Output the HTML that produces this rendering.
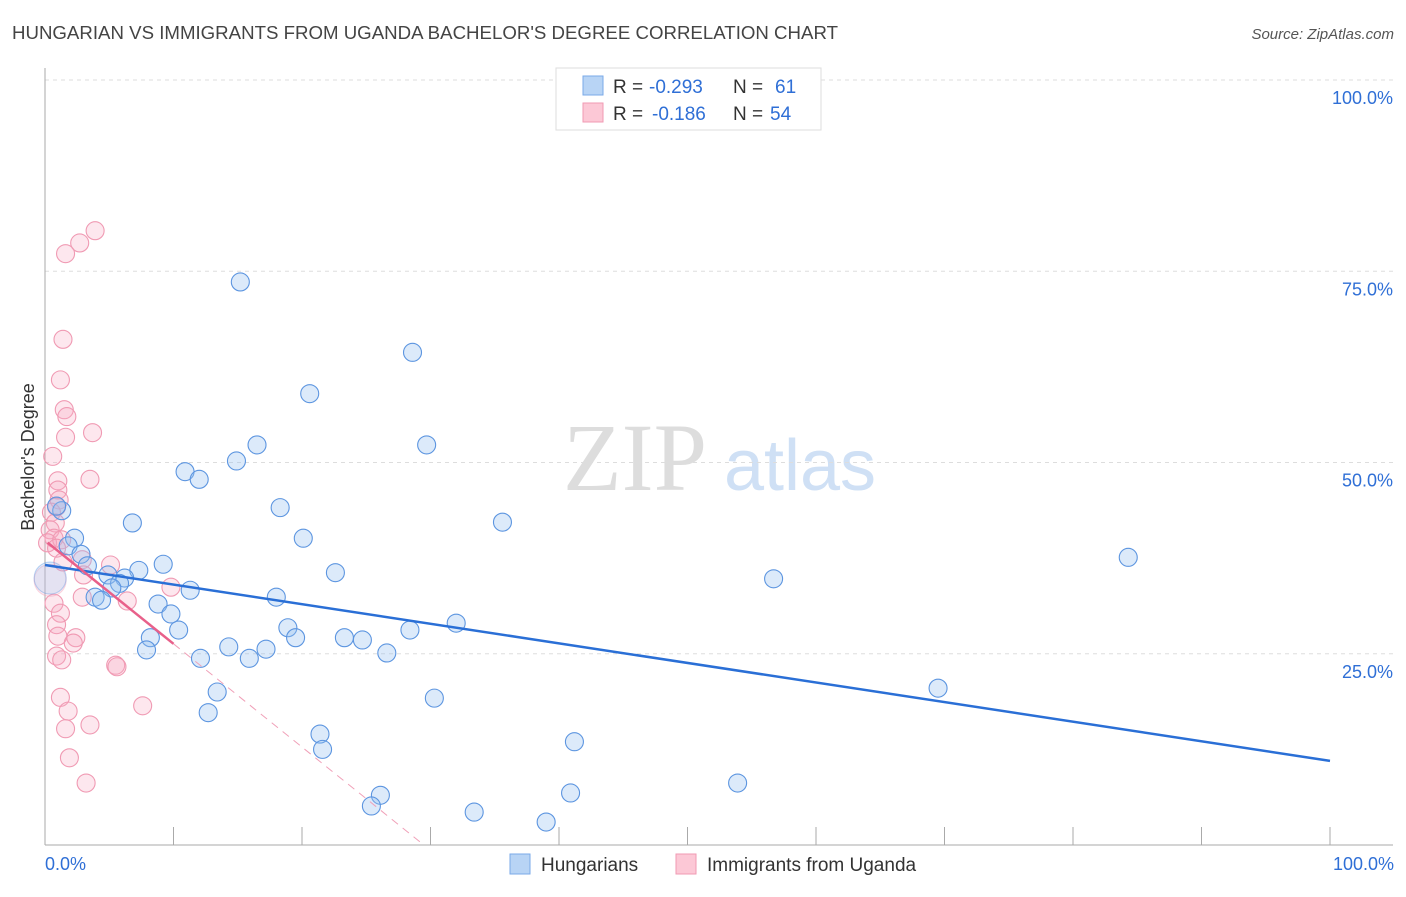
<!DOCTYPE html>
<html><head><meta charset="utf-8"><style>
body{margin:0;background:#fff;font-family:"Liberation Sans",sans-serif;}
</style></head><body>
<svg width="1406" height="892" xmlns="http://www.w3.org/2000/svg" font-family="Liberation Sans, sans-serif">
<text x="12" y="39" font-size="18.5" fill="#444" textLength="826" lengthAdjust="spacingAndGlyphs">HUNGARIAN VS IMMIGRANTS FROM UGANDA BACHELOR'S DEGREE CORRELATION CHART</text>
<text x="1394" y="39" font-size="15" fill="#555" text-anchor="end" font-style="italic">Source: ZipAtlas.com</text>
<g>
<text x="635" y="490" font-size="96" fill="#ddd" text-anchor="middle" font-family="Liberation Serif, serif">ZIP</text>
<text x="800" y="490" font-size="72" fill="#cfe0f5" text-anchor="middle">atlas</text>
</g>
<g id="grid"></g>
<g id="marks"></g>
<text transform="translate(34,457) rotate(-90)" font-size="18" fill="#333" text-anchor="middle">Bachelor's Degree</text>
<g>
<rect x="556" y="68" width="265" height="62" fill="#fff" stroke="#ddd"/>
<rect x="583" y="76" width="20" height="19" fill="#b8d4f5" stroke="#7aaae8"/>
<rect x="583" y="103" width="20" height="19" fill="#fcc8d6" stroke="#f09ab3"/>
<text x="613" y="93" font-size="19" fill="#333">R =</text>
<text x="649" y="93" font-size="19" fill="#2f6fd6">-0.293</text>
<text x="733" y="93" font-size="19" fill="#333">N =</text>
<text x="775" y="93" font-size="19" fill="#2f6fd6">61</text>
<text x="613" y="120" font-size="19" fill="#333">R =</text>
<text x="652" y="120" font-size="19" fill="#2f6fd6">-0.186</text>
<text x="733" y="120" font-size="19" fill="#333">N =</text>
<text x="770" y="120" font-size="19" fill="#2f6fd6">54</text>
</g>
<g>
<rect x="510" y="854" width="20" height="20" fill="#b8d4f5" stroke="#7aaae8"/>
<text x="541" y="871" font-size="19" fill="#333">Hungarians</text>
<rect x="676" y="854" width="20" height="20" fill="#fcc8d6" stroke="#f09ab3"/>
<text x="707" y="871" font-size="19" fill="#333">Immigrants from Uganda</text>
</g>
<text x="45" y="870" font-size="18" fill="#2f6fd6">0.0%</text>
<text x="1394" y="870" font-size="18" fill="#2f6fd6" text-anchor="end">100.0%</text>
</svg>
<script>
const yTicks=[100,75,50,25];
const yTickLabels=["100.0%","75.0%","50.0%","25.0%"];
const xTicks=[0,10,20,30,40,50,60,70,80,90,100];
const hungX=[15.2,28.6,20.6,29.7,16.5,14.9,10.9,12.0,18.3,35.6,6.8,20.1,84.3,1.3,0.9,2.3,1.8,2.8,3.3,9.2,7.3,22.6,56.7,4.9,6.2,5.8,5.2,11.3,3.9,4.4,18.0,8.8,9.8,10.4,18.9,32.0,28.4,19.5,8.2,23.3,24.7,14.3,17.2,7.9,26.6,12.1,15.9,69.5,13.4,30.3,12.7,21.4,41.2,21.6,53.9,26.1,40.9,25.4,33.4,39.0,0.4];
const hungY=[73.6,64.4,59.0,52.3,52.3,50.2,48.8,47.8,44.1,42.2,42.1,40.1,37.6,43.7,44.3,40.1,39.1,38.0,36.5,36.7,35.9,35.6,34.8,35.3,34.9,34.2,33.6,33.3,32.4,32.0,32.4,31.5,30.2,28.1,28.4,29.0,28.1,27.1,27.1,27.1,26.8,25.9,25.6,25.5,25.1,24.4,24.4,20.5,20.0,19.2,17.3,14.5,13.5,12.5,8.1,6.5,6.8,5.1,4.3,3.0,34.9];
const ugX=[3.9,2.7,1.6,1.4,1.2,1.5,1.7,1.6,3.7,0.6,3.5,1.0,1.0,1.1,0.9,0.5,0.8,0.4,0.7,0.2,1.3,0.9,5.1,1.4,2.9,3.0,9.8,6.4,2.9,0.7,1.2,0.9,1.0,2.4,2.2,0.9,1.3,5.5,5.6,1.2,1.8,7.6,1.6,3.5,1.9,3.2,0.4];
const ugY=[80.3,78.7,77.3,66.1,60.8,56.9,56.0,53.3,53.9,50.8,47.8,47.6,46.4,45.1,44.2,43.5,42.1,41.2,40.1,39.5,39.9,38.8,36.6,37.0,37.3,35.3,33.7,31.9,32.4,31.6,30.3,28.8,27.3,27.1,26.4,24.7,24.2,23.5,23.3,19.3,17.5,18.2,15.2,15.7,11.4,8.1,34.6];
const hungTrend=[36.6,11.0];
const ugTrend=[39.8,-1.35];
const NS="http://www.w3.org/2000/svg";
const X=v=>45+v*12.85, Y=v=>845-v*7.65;
function mk(t,a,p){const e=document.createElementNS(NS,t);for(const k in a)e.setAttribute(k,a[k]);p.appendChild(e);return e;}
const g=document.getElementById('grid'),m=document.getElementById('marks');
yTicks.forEach((t,i)=>{
 const l=mk('line',{x1:45,x2:1393,y1:Y(t),y2:Y(t),stroke:'#ddd','stroke-dasharray':'4,4'},g);
 
 
 const tx=mk('text',{x:1393,y:Y(t)+24,'font-size':18,fill:'#2f6fd6','text-anchor':'end'},g);
 tx.textContent=yTickLabels[i];
 
 
});
const ax=mk('line',{x1:45,x2:45,y1:68,y2:845,stroke:'#aaa'},g);


const bx=mk('line',{x1:45,x2:1393,y1:845,y2:845,stroke:'#aaa'},g);


xTicks.forEach(t=>{
 const l=mk('line',{x1:X(t),x2:X(t),y1:827,y2:845,stroke:'#aaa'},g);
 
 
});
ugX.forEach((x,i)=>{
 const big=i==ugX.length-1;
 const c=mk('circle',{cx:X(x),cy:Y(ugY[i]),r:big?16:9,fill:big?'rgba(248,170,195,0.2)':'rgba(248,170,195,0.28)',stroke:big?'rgba(240,154,179,0.4)':'#f09ab3','stroke-width':1.1},m);
 
 
});
hungX.forEach((x,i)=>{
 const big=i==hungX.length-1;
 const c=mk('circle',{cx:X(x),cy:Y(hungY[i]),r:big?16:9,fill:big?'rgba(150,190,240,0.25)':'rgba(150,190,240,0.33)',stroke:big?'rgba(92,149,224,0.4)':'#5c95e0','stroke-width':1.1},m);
 
 
});
const hl=mk('line',{x1:X(0),y1:Y(hungTrend[0]),x2:X(100),y2:Y(hungTrend[1]),stroke:'#2a6fd6','stroke-width':2.5},m);


const ue=-ugTrend[0]/ugTrend[1];
const ud=mk('line',{x1:X(10),y1:Y(ugTrend[0]+ugTrend[1]*10),x2:X(ue),y2:Y(0),stroke:'#f0a0b8','stroke-width':1,'stroke-dasharray':'8,6'},m);


const ul=mk('line',{x1:X(0.2),y1:Y(ugTrend[0]+ugTrend[1]*0.2),x2:X(10),y2:Y(ugTrend[0]+ugTrend[1]*10),stroke:'#e8608a','stroke-width':2.5},m);


</script>
</body></html>
